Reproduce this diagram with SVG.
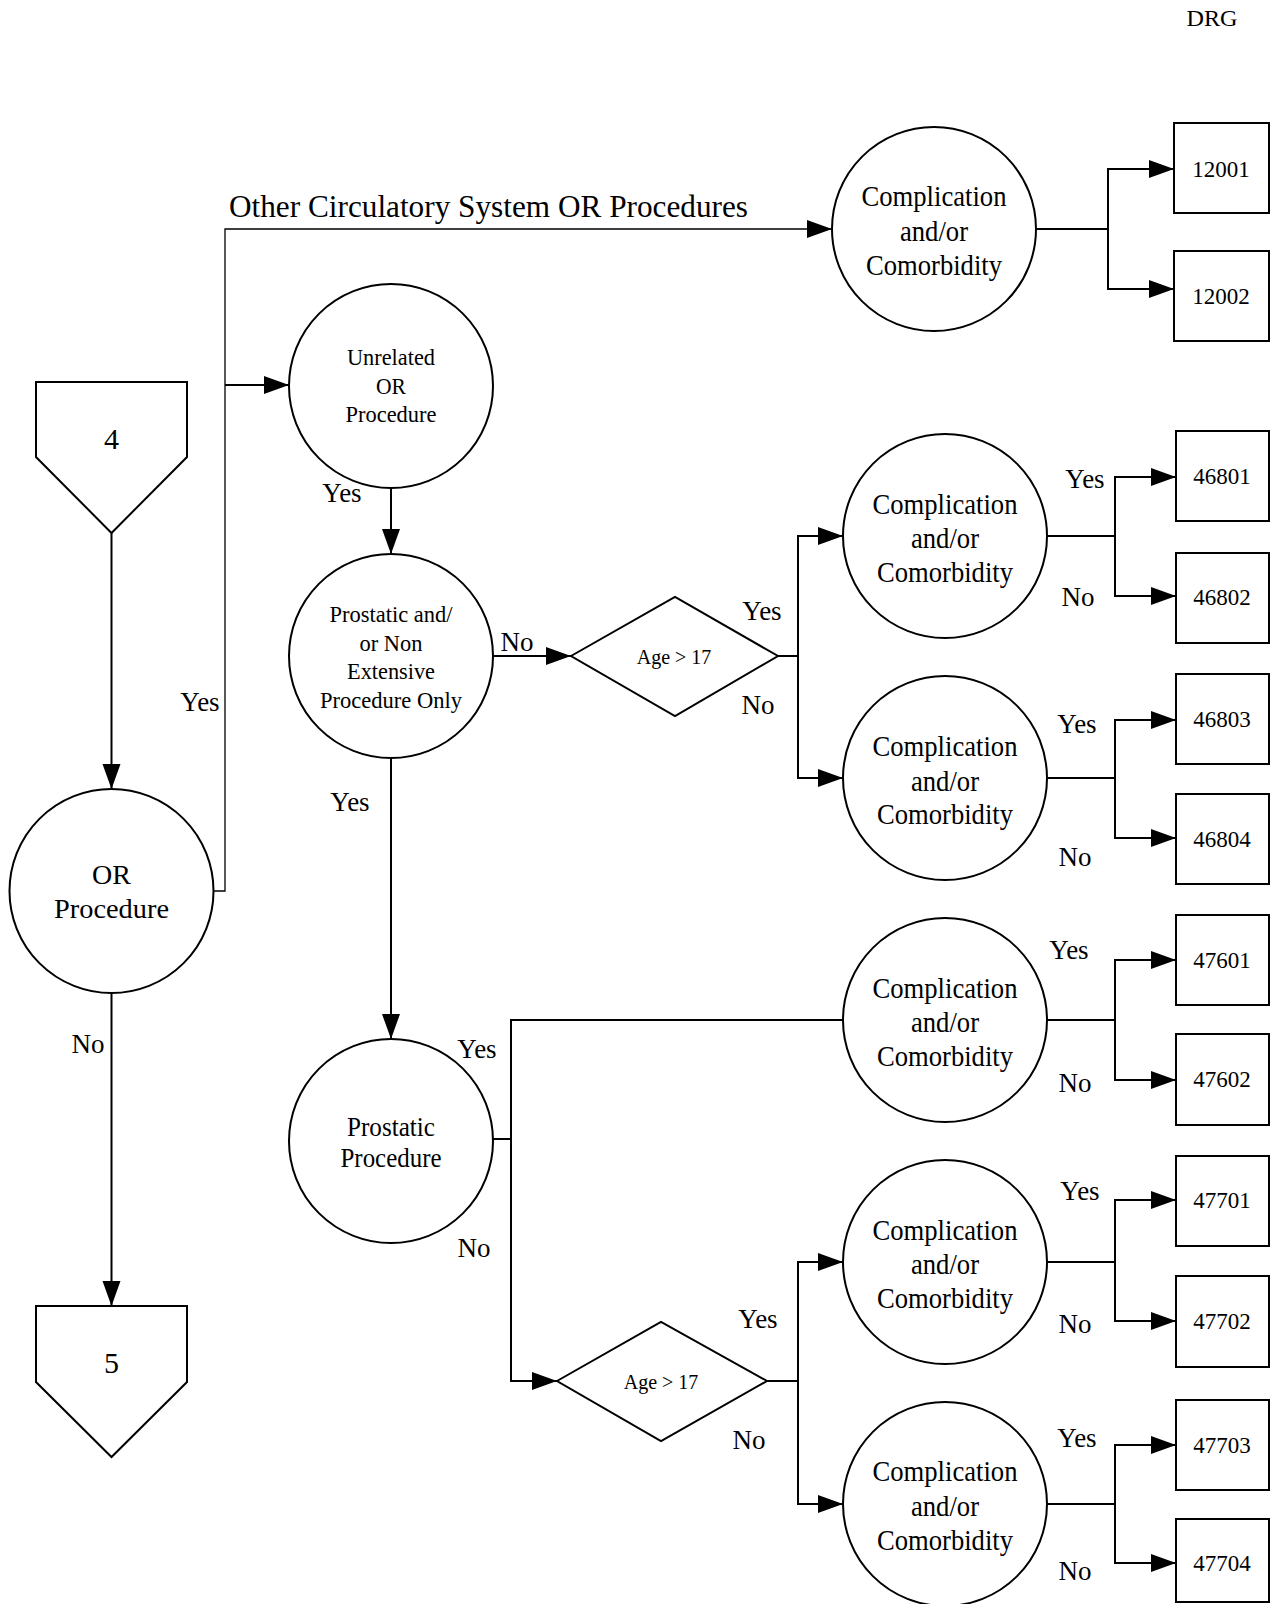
<svg xmlns="http://www.w3.org/2000/svg" width="1279" height="1604" viewBox="0 0 1279 1604">
<defs>
<marker id="arr" markerUnits="userSpaceOnUse" markerWidth="26" markerHeight="20" refX="25" refY="9" orient="auto">
<path d="M0,0 L25,9 L0,18 z" fill="#000"/>
</marker>
<style>
.s{fill:#fff;stroke:#000;stroke-width:2}
.c{fill:none;stroke:#000;stroke-width:2}
.t{stroke-width:1.3}
text{font-family:"Liberation Serif","Times New Roman",serif;fill:#000;text-anchor:middle;dominant-baseline:central}
.cc{font-size:30px}
.lb{font-size:27px}
.num{font-size:23px}
.age{font-size:20px}
</style>
</defs>
<rect width="1279" height="1604" fill="#fff"/>
<text x="1212" y="18" font-size="24" textLength="51" lengthAdjust="spacingAndGlyphs">DRG</text>

<g id="connectors">
<path class="c" d="M111.5,533 V789" marker-end="url(#arr)"/>
<path class="c t" d="M213.5,891 H225 V229 H832" marker-end="url(#arr)"/>
<path class="c" d="M225,385 H289" marker-end="url(#arr)"/>
<path class="c" d="M111.5,993 V1306" marker-end="url(#arr)"/>
<path class="c" d="M391,488 V554" marker-end="url(#arr)"/>
<path class="c" d="M391,758 V1039" marker-end="url(#arr)"/>
<path class="c" d="M493,656 H571" marker-end="url(#arr)"/>
<path class="c" d="M778,656 H798 V536 H843" marker-end="url(#arr)"/>
<path class="c" d="M798,656 V778 H843" marker-end="url(#arr)"/>
<path class="c" d="M493,1139 H511 V1020 H843"/>
<path class="c" d="M511,1139 V1381 H557" marker-end="url(#arr)"/>
<path class="c" d="M767,1381 H798 V1262 H843" marker-end="url(#arr)"/>
<path class="c" d="M798,1381 V1504 H843" marker-end="url(#arr)"/>
<path class="c" d="M1036,229 H1108 V169 H1174" marker-end="url(#arr)"/>
<path class="c" d="M1108,229 V289 H1174" marker-end="url(#arr)"/>
<path class="c" d="M1047,536 H1115 V477 H1176" marker-end="url(#arr)"/>
<path class="c" d="M1115,536 V596 H1176" marker-end="url(#arr)"/>
<path class="c" d="M1047,778 H1115 V720 H1176" marker-end="url(#arr)"/>
<path class="c" d="M1115,778 V838 H1176" marker-end="url(#arr)"/>
<path class="c" d="M1047,1020 H1115 V960 H1176" marker-end="url(#arr)"/>
<path class="c" d="M1115,1020 V1080 H1176" marker-end="url(#arr)"/>
<path class="c" d="M1047,1262 H1115 V1200 H1176" marker-end="url(#arr)"/>
<path class="c" d="M1115,1262 V1321 H1176" marker-end="url(#arr)"/>
<path class="c" d="M1047,1504 H1115 V1445 H1176" marker-end="url(#arr)"/>
<path class="c" d="M1115,1504 V1563 H1176" marker-end="url(#arr)"/>
</g>

<g id="labels">
<text x="229" y="206" font-size="31" style="text-anchor:start" textLength="519" lengthAdjust="spacingAndGlyphs">Other Circulatory System OR Procedures</text>
<text class="lb" x="200" y="702">Yes</text>
<text class="lb" x="88" y="1044" textLength="33" lengthAdjust="spacingAndGlyphs">No</text>
<text class="lb" x="342" y="493">Yes</text>
<text class="lb" x="350" y="802">Yes</text>
<text class="lb" x="517" y="642" textLength="33" lengthAdjust="spacingAndGlyphs">No</text>
<text class="lb" x="762" y="611">Yes</text>
<text class="lb" x="758" y="705" textLength="33" lengthAdjust="spacingAndGlyphs">No</text>
<text class="lb" x="477" y="1049">Yes</text>
<text class="lb" x="474" y="1248" textLength="33" lengthAdjust="spacingAndGlyphs">No</text>
<text class="lb" x="758" y="1319">Yes</text>
<text class="lb" x="749" y="1440">No</text>
<text class="lb" x="1085" y="479">Yes</text>
<text class="lb" x="1078" y="597" textLength="33" lengthAdjust="spacingAndGlyphs">No</text>
<text class="lb" x="1077" y="724">Yes</text>
<text class="lb" x="1075" y="857" textLength="33" lengthAdjust="spacingAndGlyphs">No</text>
<text class="lb" x="1069" y="950">Yes</text>
<text class="lb" x="1075" y="1083" textLength="33" lengthAdjust="spacingAndGlyphs">No</text>
<text class="lb" x="1080" y="1191">Yes</text>
<text class="lb" x="1075" y="1324" textLength="33" lengthAdjust="spacingAndGlyphs">No</text>
<text class="lb" x="1077" y="1438">Yes</text>
<text class="lb" x="1075" y="1571" textLength="33" lengthAdjust="spacingAndGlyphs">No</text>
</g>

<g id="start4">
<polygon class="s" points="36,382 187,382 187,457 111.5,533 36,457"/>
<text x="111.5" y="438" font-size="30">4</text>
</g>
<g id="end5">
<polygon class="s" points="36,1306 187,1306 187,1382 111.5,1457 36,1382"/>
<text x="111.5" y="1362" font-size="30">5</text>
</g>

<g id="or-procedure">
<circle class="s" cx="111.5" cy="891" r="102"/>
<text x="111.5" y="874" font-size="28">OR</text>
<text x="111.5" y="908" font-size="28" textLength="115" lengthAdjust="spacingAndGlyphs">Procedure</text>
</g>

<g id="unrelated">
<circle class="s" cx="391" cy="386" r="102"/>
<text x="391" y="357" font-size="23" textLength="88" lengthAdjust="spacingAndGlyphs">Unrelated</text>
<text x="391" y="386" font-size="23" textLength="30" lengthAdjust="spacingAndGlyphs">OR</text>
<text x="391" y="414" font-size="23" textLength="91" lengthAdjust="spacingAndGlyphs">Procedure</text>
</g>

<g id="prostatic-nonext">
<circle class="s" cx="391" cy="656" r="102"/>
<text x="391" y="614" font-size="24" textLength="123" lengthAdjust="spacingAndGlyphs">Prostatic and/</text>
<text x="391" y="643" font-size="24" textLength="63" lengthAdjust="spacingAndGlyphs">or Non</text>
<text x="391" y="671" font-size="24" textLength="88" lengthAdjust="spacingAndGlyphs">Extensive</text>
<text x="391" y="700" font-size="24" textLength="142" lengthAdjust="spacingAndGlyphs">Procedure Only</text>
</g>

<g id="prostatic">
<circle class="s" cx="391" cy="1141" r="102"/>
<text x="391" y="1127" font-size="27" textLength="88" lengthAdjust="spacingAndGlyphs">Prostatic</text>
<text x="391" y="1158" font-size="27" textLength="101" lengthAdjust="spacingAndGlyphs">Procedure</text>
</g>

<g id="age1">
<polygon class="s" points="571,656 675,597 778,656 675,716"/>
<text class="age" x="674" y="657">Age &gt; 17</text>
</g>
<g id="age2">
<polygon class="s" points="557,1381 661,1322 767,1381 661,1441"/>
<text class="age" x="661" y="1382" font-size="21">Age &gt; 17</text>
</g>

<g id="cc0">
<circle class="s" cx="934" cy="229" r="102"/>
<text class="cc" x="934" y="195" textLength="145" lengthAdjust="spacingAndGlyphs">Complication</text>
<text class="cc" x="934" y="230" textLength="68" lengthAdjust="spacingAndGlyphs">and/or</text>
<text class="cc" x="934" y="264" textLength="136" lengthAdjust="spacingAndGlyphs">Comorbidity</text>
</g>
<g id="cc1">
<circle class="s" cx="945" cy="536" r="102"/>
<text class="cc" x="945" y="503" textLength="145" lengthAdjust="spacingAndGlyphs">Complication</text>
<text class="cc" x="945" y="537" textLength="68" lengthAdjust="spacingAndGlyphs">and/or</text>
<text class="cc" x="945" y="571" textLength="136" lengthAdjust="spacingAndGlyphs">Comorbidity</text>
</g>
<g id="cc2">
<circle class="s" cx="945" cy="778" r="102"/>
<text class="cc" x="945" y="745" textLength="145" lengthAdjust="spacingAndGlyphs">Complication</text>
<text class="cc" x="945" y="780" textLength="68" lengthAdjust="spacingAndGlyphs">and/or</text>
<text class="cc" x="945" y="813" textLength="136" lengthAdjust="spacingAndGlyphs">Comorbidity</text>
</g>
<g id="cc3">
<circle class="s" cx="945" cy="1020" r="102"/>
<text class="cc" x="945" y="987" textLength="145" lengthAdjust="spacingAndGlyphs">Complication</text>
<text class="cc" x="945" y="1021" textLength="68" lengthAdjust="spacingAndGlyphs">and/or</text>
<text class="cc" x="945" y="1055" textLength="136" lengthAdjust="spacingAndGlyphs">Comorbidity</text>
</g>
<g id="cc4">
<circle class="s" cx="945" cy="1262" r="102"/>
<text class="cc" x="945" y="1229" textLength="145" lengthAdjust="spacingAndGlyphs">Complication</text>
<text class="cc" x="945" y="1263" textLength="68" lengthAdjust="spacingAndGlyphs">and/or</text>
<text class="cc" x="945" y="1297" textLength="136" lengthAdjust="spacingAndGlyphs">Comorbidity</text>
</g>
<g id="cc5">
<circle class="s" cx="945" cy="1504" r="102"/>
<text class="cc" x="945" y="1470" textLength="145" lengthAdjust="spacingAndGlyphs">Complication</text>
<text class="cc" x="945" y="1505" textLength="68" lengthAdjust="spacingAndGlyphs">and/or</text>
<text class="cc" x="945" y="1539" textLength="136" lengthAdjust="spacingAndGlyphs">Comorbidity</text>
</g>

<g id="drg12001"><rect class="s" x="1174" y="123" width="95" height="90"/><text class="num" x="1221" y="169">12001</text></g>
<g id="drg12002"><rect class="s" x="1174" y="251" width="95" height="90"/><text class="num" x="1221" y="296">12002</text></g>
<g id="drg46801"><rect class="s" x="1176" y="431" width="93" height="90"/><text class="num" x="1222" y="476">46801</text></g>
<g id="drg46802"><rect class="s" x="1176" y="553" width="93" height="90"/><text class="num" x="1222" y="597">46802</text></g>
<g id="drg46803"><rect class="s" x="1176" y="674" width="93" height="90"/><text class="num" x="1222" y="719">46803</text></g>
<g id="drg46804"><rect class="s" x="1176" y="794" width="93" height="90"/><text class="num" x="1222" y="839">46804</text></g>
<g id="drg47601"><rect class="s" x="1176" y="915" width="93" height="90"/><text class="num" x="1222" y="960">47601</text></g>
<g id="drg47602"><rect class="s" x="1176" y="1034" width="93" height="91"/><text class="num" x="1222" y="1079">47602</text></g>
<g id="drg47701"><rect class="s" x="1176" y="1156" width="93" height="90"/><text class="num" x="1222" y="1200">47701</text></g>
<g id="drg47702"><rect class="s" x="1176" y="1276" width="93" height="91"/><text class="num" x="1222" y="1321">47702</text></g>
<g id="drg47703"><rect class="s" x="1176" y="1400" width="93" height="90"/><text class="num" x="1222" y="1445">47703</text></g>
<g id="drg47704"><rect class="s" x="1176" y="1519" width="93" height="83"/><text class="num" x="1222" y="1563">47704</text></g>
</svg>
